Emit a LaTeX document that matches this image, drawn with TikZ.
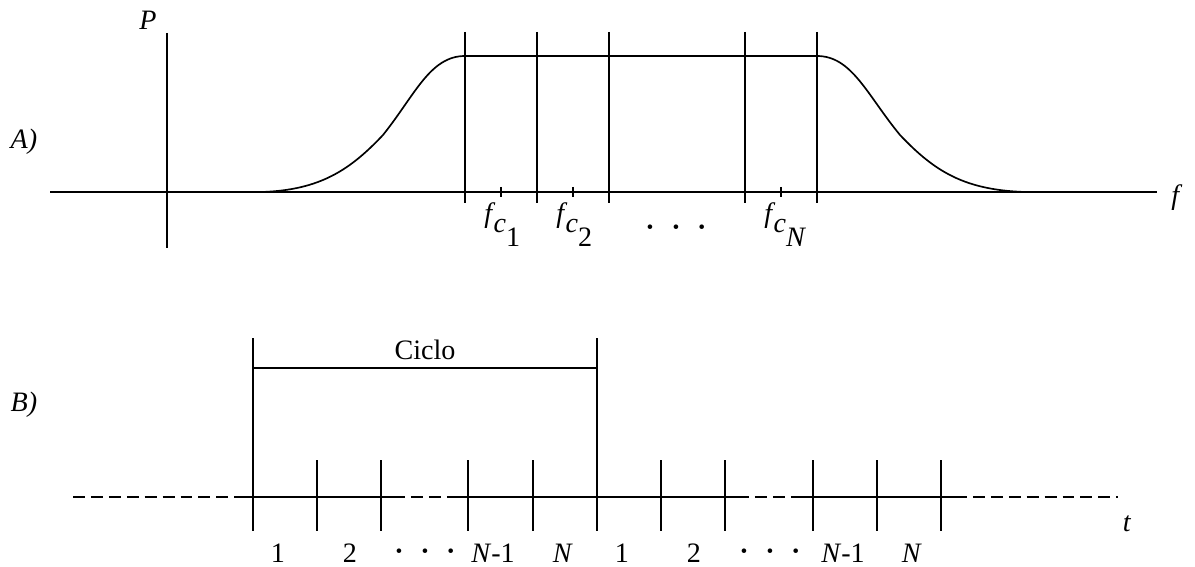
\documentclass[tikz,border=0pt]{standalone}
\usepackage{amsmath}
\usepackage{fontspec}
\setmainfont{Liberation Serif}
\usetikzlibrary{positioning}

\begin{document}
\begin{tikzpicture}[x=0.02cm, y=-0.02cm,
    axis/.style={line width=0.95pt},
    dashline/.style={line width=0.95pt, dash pattern=on 6.8pt off 3.4pt},
    lbl/.style={inner sep=0pt, font=\fontsize{16}{18}\selectfont},
    sub/.style={lbl, anchor=base west}
]
    \useasboundingbox (0,0) rectangle (1195,567);

    % A) spectrum
    \coordinate (fa) at (50,192);
    \coordinate (fb) at (1157,192);
    \coordinate (pa) at (167,33);
    \coordinate (pb) at (167,248);
    \draw[axis] (fa) -- (fb);
    \draw[axis] (pa) -- (pb);
    \node[lbl] (plab) at (148,20) {\textit{P}};
    \node[lbl] (flab) at (1177,198) {\textit{f}};
    \node[lbl] (alab) at (24,142) {\textit{A)}};

    % Band edges
    \coordinate (lo) at (262,192);
    \coordinate (tl) at (465,56);
    \coordinate (tr) at (817,56);
    \coordinate (hi) at (1025,192);
    \draw[axis] (lo) .. controls (320,190) and (350,170) .. (383,135)
        .. controls (415,95) and (430,56) .. (tl) -- (tr)
        .. controls (852,56) and (867,95) .. (900,135)
        .. controls (935,172) and (965,190) .. (hi);

    % Channel boundaries
    \foreach \x in {465,537,609,745,817}
        \draw[axis] (\x,32) -- (\x,203);

    % Carrier ticks
    \foreach \x in {501,573,781}
        \draw[axis] (\x,187) -- (\x,197);

    \node[sub] (fc1) at (484,223)
        {\textit{f}\kern-1pt\raisebox{-0.2cm}{\textit{c}}\raisebox{-0.48cm}{1}};
    \node[sub] (fc2) at (556,223)
        {\textit{f}\kern-1pt\raisebox{-0.2cm}{\textit{c}}\raisebox{-0.48cm}{2}};
    \node[sub] (fcn) at (764,223)
        {\textit{f}\kern-1pt\raisebox{-0.2cm}{\textit{c}}\raisebox{-0.48cm}{\textit{N}}};
    \node[lbl] (fcd) at (676,231)
        {\textbf{\textperiodcentered}\hspace{0.33cm}\textbf{\textperiodcentered}\hspace{0.33cm}\textbf{\textperiodcentered}};

    % B) time slots
    \node[lbl] (blab) at (24,405) {\textit{B)}};
    \draw[dashline] (73,497) -- (240,497);
    \draw[axis] (240,497) -- (393,497);
    \draw[dashline] (393,497) -- (457,497);
    \draw[axis] (457,497) -- (737,497);
    \draw[dashline] (737,497) -- (800,497);
    \draw[axis] (800,497) -- (955,497);
    \draw[dashline] (955,497) -- (1118,497);
    \node[lbl] (tlab) at (1127,524) {\textit{t}};

    % Cycle
    \coordinate (ca) at (253,338);
    \coordinate (cb) at (597,338);
    \draw[axis] (ca) -- (253,531);
    \draw[axis] (cb) -- (597,531);
    \draw[axis] (253,368) -- (597,368);
    \node[lbl] (ciclo) at (425,350) {Ciclo};

    % Slot ticks
    \foreach \x in {317,381,468,533,661,725,813,877,941}
        \draw[axis] (\x,460) -- (\x,531);

    % Slot labels
    \foreach \x/\t in {278/1,350/2,493/\textit{N}-1,563/\textit{N},
                       622/1,694/2,843/\textit{N}-1,912/\textit{N}}
        \node[lbl] at (\x,553) {\t};
    \node[lbl] (sd1) at (425,555)
        {\textbf{\textperiodcentered}\hspace{0.33cm}\textbf{\textperiodcentered}\hspace{0.33cm}\textbf{\textperiodcentered}};
    \node[lbl] (sd2) at (770,555)
        {\textbf{\textperiodcentered}\hspace{0.33cm}\textbf{\textperiodcentered}\hspace{0.33cm}\textbf{\textperiodcentered}};
\end{tikzpicture}
\end{document}
